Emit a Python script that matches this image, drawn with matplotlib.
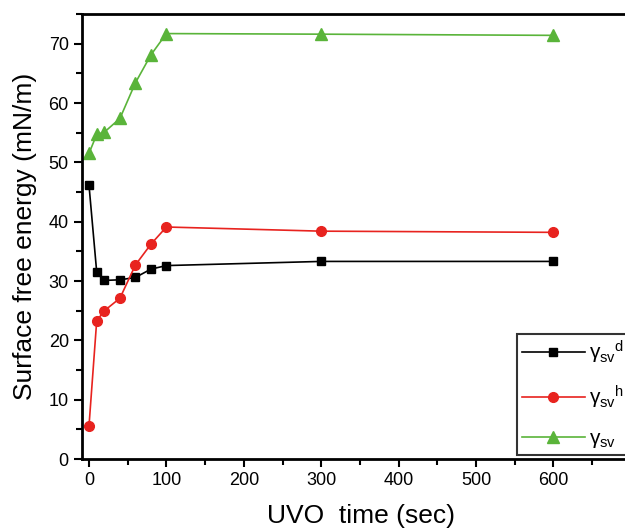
import matplotlib
matplotlib.use("Agg")
import matplotlib.pyplot as plt
from matplotlib.ticker import MultipleLocator

plt.rcParams['font.family'] = ['Liberation Sans', 'DejaVu Sans']
plt.rcParams['mathtext.fontset'] = 'custom'
plt.rcParams['mathtext.rm'] = 'Liberation Sans'
plt.rcParams['mathtext.it'] = 'Liberation Sans:italic'

time_sec = [0, 10, 20, 40, 60, 80, 100, 300, 600]
gamma_d = [46.2, 31.5, 30.1, 30.2, 30.6, 32.0, 32.6, 33.3, 33.3]
gamma_h = [5.5, 23.3, 25.0, 27.1, 32.7, 36.2, 39.1, 38.4, 38.2]
gamma_total = [51.5, 54.7, 55.1, 57.4, 63.4, 68.1, 71.7, 71.6, 71.4]

labels = ['γ$_{\\mathregular{sv}}$$^{\\mathregular{d}}$',
          'γ$_{\\mathregular{sv}}$$^{\\mathregular{h}}$',
          'γ$_{\\mathregular{sv}}$']

fig = plt.figure(figsize=(6.25, 5.28), dpi=100)
ax = fig.add_axes([82/625, 1-459/528, 545/625, 445/528])

ax.plot(time_sec, gamma_d, color='black', marker='s', ms=6, lw=1.2, label=labels[0])
ax.plot(time_sec, gamma_h, color='#e8231f', marker='o', ms=7, lw=1.2, label=labels[1])
ax.plot(time_sec, gamma_total, color='#5ab43a', marker='^', ms=8.5, lw=1.2, label=labels[2])

ax.set_xlim(-9, 695)
ax.set_ylim(0, 75)
ax.xaxis.set_major_locator(MultipleLocator(100))
ax.xaxis.set_minor_locator(MultipleLocator(50))
ax.yaxis.set_major_locator(MultipleLocator(10))
ax.yaxis.set_minor_locator(MultipleLocator(5))
ax.tick_params(which='major', direction='out', length=6, width=1.5, labelsize=13)
ax.tick_params(which='minor', direction='out', length=4, width=1.5)
for s in ax.spines.values():
    s.set_linewidth(2)

ax.set_xlabel('UVO  time (sec)', fontsize=19, labelpad=10)
ax.xaxis.set_label_coords(0.512, -0.102)
ax.set_ylabel('Surface free energy (mN/m)', fontsize=19, labelpad=8)

leg = ax.legend(loc='lower left', bbox_to_anchor=(517/625, 1-455/528),
                bbox_transform=fig.transFigure, fontsize=15, frameon=True,
                fancybox=False, edgecolor='black', handlelength=3.0,
                labelspacing=0.85, borderpad=0.25, handletextpad=0.2,
                borderaxespad=0)
leg.get_frame().set_linewidth(1.5)

fig.savefig('out.png', dpi=100)
